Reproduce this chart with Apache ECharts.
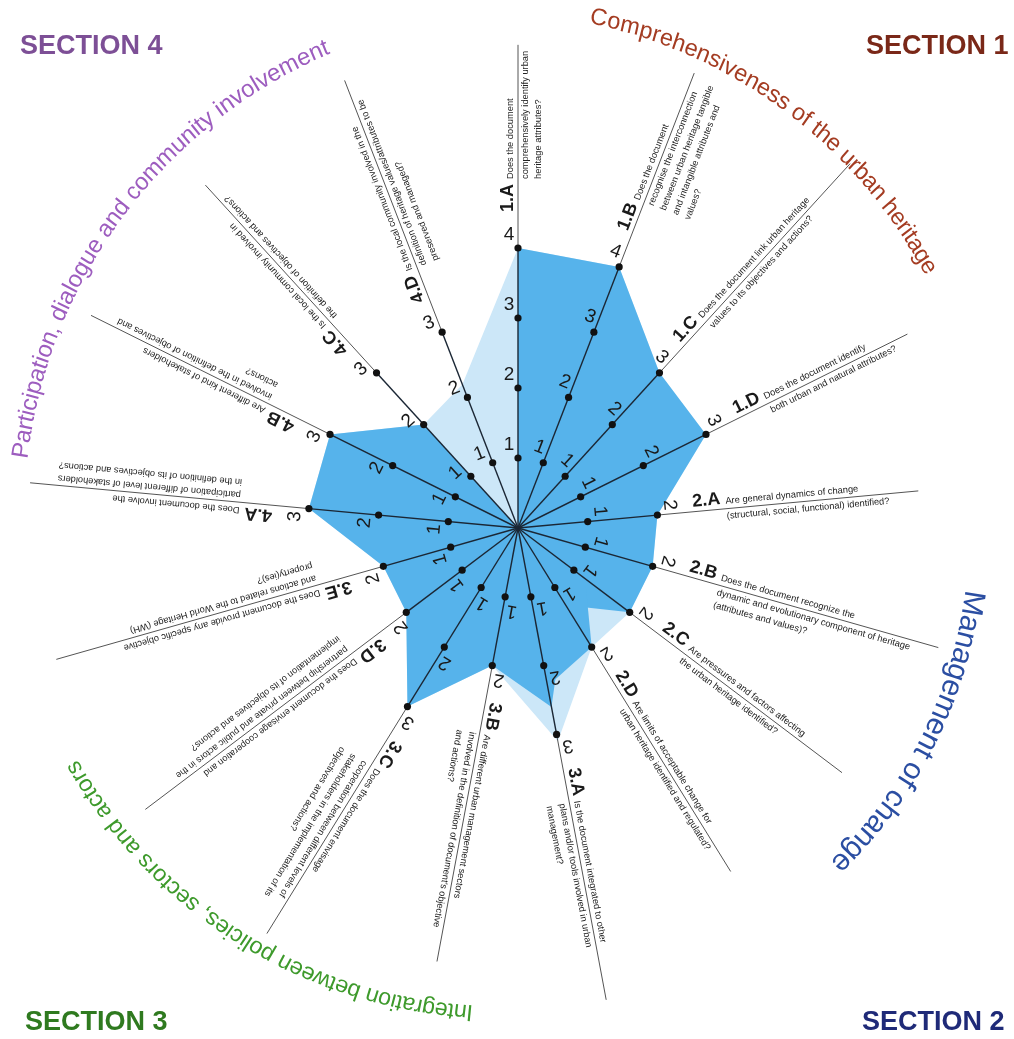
<!DOCTYPE html>
<html>
<head>
<meta charset="utf-8">
<script src="https://cdn.jsdelivr.net/npm/echarts@6/dist/echarts.min.js"></script>
<style>
  html, body { margin: 0; padding: 0; background: #fff; }
  #chart { width: 1014px; height: 1039px; }
</style>
</head>
<body>
<div id="chart"></div>
<script>
// criteria codes, clockwise from the top
const codes = ['1.A', '1.B', '1.C', '1.D', '2.A', '2.B', '2.C', '2.D', '3.A', '3.B', '3.C', '3.D', '3.E', '4.A', '4.B', '4.C', '4.D']
// highest score tick on each axis
const maxScore = [4, 4, 3, 3, 2, 2, 2, 2, 3, 2, 3, 2, 2, 3, 3, 3, 3]
// filled areas (light outer envelope, main score area, lower patch)
const outerArea = [4, 4, 3, 3, 2, 2, 2, 2, 3.1, 2, 3, 2, 2, 3, 3, 2, 2.2]
const mainArea = [4, 4, 3, 3, 2, 2, 2, 1.3, 2.6, 2, 3, 2, 2, 3, 3, 2, 0]
const lowerArea = [0, 0, 0, 0, 0, 0, 1.2, 2, 2.3, 1.5, 0, 0, 0, 0, 0, 0, 0]

const questions = [
  ['Does the document', 'comprehensively identify urban', 'heritage attributes?'],
  ['Does the document', 'recognise the interconnection', 'between urban heritage tangible', 'and intangible attributes and', 'values?'],
  ['Does the document link urban heritage', 'values to its objectives and actions?'],
  ['Does the document identify', 'both urban and natural attributes?'],
  ['Are general dynamics of change', '(structural, social, functional) identified?'],
  ['Does the document recognize the', 'dynamic and evolutionary component of heritage', '(attributes and values)?'],
  ['Are pressures and factors affecting', 'the urban heritage identified?'],
  ['Are limits of acceptable change for', 'urban heritage identified and regulated?'],
  ['Is the document integrated to other', 'plans and/or tools involved in urban', 'management?'],
  ['Are different urban management sectors', 'involved in the definition of document\'s objective', 'and actions?'],
  ['Does the document envisage', 'cooperation between different levels of', 'stakeholders in the implementation of its', 'objectives and actions?'],
  ['Does the document envisage cooperation and', 'partnership between private and public actors in the', 'implementation of its objectives and actions?'],
  ['Does the document provide any specific objective', 'and actions related to the World Heritage (WH)', 'property(ies)?'],
  ['Does the document involve the', 'participation of different level of stakeholders', 'in the definition of its objectives and actions?'],
  ['Are different kind of stakeholders', 'involved in the definition of objectives and', 'actions?'],
  ['Is the local community involved in', 'the definition of objectives and actions?'],
  ['Is the local community involved in the', 'definition of heritage values/attributes to be', 'preserved and managed?']
]

const sections = [
  { title: 'SECTION 1', arc: 'Comprehensiveness of the urban heritage', color: '#7a2818', arcColor: '#a43c22' },
  { title: 'SECTION 2', arc: 'Management of change', color: '#1f2a78', arcColor: '#2b4ea2' },
  { title: 'SECTION 3', arc: 'Integration between policies, sectors and actors', color: '#2f7a1f', arcColor: '#3e9a2c' },
  { title: 'SECTION 4', arc: 'Participation, dialogue and community involvement', color: '#7d4f96', arcColor: '#9d5dbf' }
]

const CX = 518
const CY = 528
const UNIT = 70
const RMAX = 7
const FONT = '"Liberation Sans", Arial, Helvetica, sans-serif'
// how far (px) each axis line runs out from the centre
const lineReach = [478, 480, 493, 435, 402, 437, 406, 404, 480, 441, 477, 467, 480, 490, 477, 464, 480]

const areas = [outerArea, mainArea, lowerArea]
const areaColors = ['#cce7f8', '#56b3eb', '#56b3eb']

const mctx = document.createElement('canvas').getContext('2d')
function textW(s, size, weight) {
  mctx.font = (weight || 'normal') + ' ' + size + 'px ' + FONT
  return mctx.measureText(s).width
}

function axisGeom(api, i) {
  const c = api.coord([0, i])
  const p = api.coord([1, i])
  const dx = p[0] - c[0]
  const dy = p[1] - c[1]
  const unit = Math.hypot(dx, dy)
  return { c: c, dx: dx / unit, dy: dy / unit, unit: unit }
}

const ticks = []
maxScore.forEach((m, i) => {
  for (let v = 1; v <= m; v++) ticks.push([v, i])
})

const Q_SIZE = 9.3
const Q_LH = 13
const CODE_SIZE = 18

// text following a circle, letters upright towards the outside
function arcText(str, a0, a1, r0, r1, color) {
  const chars = str.split('')
  const w = chars.map(ch => textW(ch, 100) / 100)
  const total = w.reduce((s, x) => s + x, 0)
  const span = total - w[0] / 2 - w[w.length - 1] / 2
  const rm = (r0 + r1) / 2
  const size = (a1 - a0) * Math.PI / 180 * rm / span
  const els = []
  let acc = 0
  chars.forEach((ch, j) => {
    const mid = acc + w[j] / 2
    const t = (mid - w[0] / 2) / span
    const phi = (a0 + (a1 - a0) * t) * Math.PI / 180
    const r = r0 + (r1 - r0) * t
    acc += w[j]
    if (ch === ' ') return
    els.push({
      type: 'text',
      x: CX + r * Math.sin(phi),
      y: CY - r * Math.cos(phi),
      rotation: -phi,
      style: { text: ch, fill: color, fontSize: size, fontFamily: FONT, align: 'center', verticalAlign: 'middle' }
    })
  })
  return els
}

const graphics = []
const titlePos = [[866, 47], [862, 1023], [25, 1023], [20, 47]]
sections.forEach((s, k) => {
  graphics.push({
    type: 'text', x: titlePos[k][0], y: titlePos[k][1],
    style: { text: s.title, fill: s.color, fontSize: 27, fontWeight: 'bold', fontFamily: FONT, verticalAlign: 'middle' }
  })
})
graphics.push(...arcText(sections[0].arc, 9, 57.5, 516, 486, sections[0].arcColor))
graphics.push(...arcText(sections[1].arc, 99.4, 135.9, 460, 465, sections[1].arcColor))
graphics.push(...arcText(sections[2].arc, 185.7, 241.6, 486, 504, sections[2].arcColor))
graphics.push(...arcText(sections[3].arc, 278.9, 338.1, 502, 517, sections[3].arcColor))

const chart = echarts.init(document.getElementById('chart'))
chart.setOption({
  animation: false,
  backgroundColor: '#fff',
  polar: { center: [CX, CY], radius: RMAX * UNIT },
  angleAxis: { type: 'value', min: 0, max: codes.length, startAngle: 90, clockwise: true, show: false },
  radiusAxis: { type: 'value', min: 0, max: RMAX, show: false },
  graphic: graphics,
  series: [
    {
      type: 'custom',
      coordinateSystem: 'polar',
      z: 1,
      silent: true,
      data: areas.map((a, k) => [0, 0, k]),
      renderItem(params, api) {
        const k = api.value(2)
        const pts = areas[k].map((v, i) => api.coord([v, i]))
        return { type: 'polygon', shape: { points: pts }, style: { fill: areaColors[k] } }
      }
    },
    {
      type: 'custom',
      coordinateSystem: 'polar',
      z: 2,
      silent: true,
      data: codes.map((c, i) => [maxScore[i], i]),
      renderItem(params, api) {
        const m = api.value(0)
        const i = api.value(1)
        const g = axisGeom(api, i)
        const pm = api.coord([m, i])
        const code = codes[i]
        const lines = questions[i]
        const codeW = textW(code, CODE_SIZE, 'bold')
        const qx = codeW + 5
        const maxW = Math.max(...lines.map(l => textW(l, Q_SIZE)))
        const rStart = m * g.unit + 36
        const rEnd = Math.max(rStart + qx + maxW + 6, lineReach[i])
        const ps = [g.c[0] + g.dx * rStart, g.c[1] + g.dy * rStart]
        const pe = [g.c[0] + g.dx * rEnd, g.c[1] + g.dy * rEnd]
        const rot = Math.atan2(-g.dy, g.dx)
        const texts = [
          { type: 'text', x: 0, y: -1, style: { text: code, fontSize: CODE_SIZE, fontWeight: 'bold', fontFamily: FONT, fill: '#1a1a1a', verticalAlign: 'bottom' } }
        ]
        lines.forEach((l, k) => {
          texts.push({
            type: 'text', x: qx, y: k === 0 ? -3 : 3 + (k - 1) * Q_LH,
            style: { text: l, fontSize: Q_SIZE, fontFamily: FONT, fill: '#222', verticalAlign: k === 0 ? 'bottom' : 'top' }
          })
        })
        return {
          type: 'group',
          children: [
            { type: 'line', shape: { x1: g.c[0], y1: g.c[1], x2: pm[0], y2: pm[1] }, style: { stroke: '#1b2735', lineWidth: 1.4 } },
            { type: 'line', shape: { x1: pm[0], y1: pm[1], x2: pe[0], y2: pe[1] }, style: { stroke: '#555', lineWidth: 1 } },
            { type: 'group', x: ps[0], y: ps[1], rotation: rot, children: texts }
          ]
        }
      }
    },
    {
      type: 'custom',
      coordinateSystem: 'polar',
      z: 3,
      silent: true,
      data: ticks,
      renderItem(params, api) {
        const v = api.value(0)
        const i = api.value(1)
        const g = axisGeom(api, i)
        const p = api.coord([v, i])
        // left side of the axis when looking outwards
        const leftX = g.dy
        const leftY = -g.dx
        const theta = Math.atan2(g.dx, -g.dy)
        return {
          type: 'group',
          children: [
            { type: 'circle', shape: { cx: p[0], cy: p[1], r: 3.6 }, style: { fill: '#111' } },
            {
              type: 'text',
              x: p[0] + 13 * g.dx + 9 * leftX,
              y: p[1] + 13 * g.dy + 9 * leftY,
              rotation: -theta,
              style: { text: String(v), fontSize: 19, fontFamily: FONT, fill: '#1a1a1a', align: 'center', verticalAlign: 'middle' }
            }
          ]
        }
      }
    }
  ]
})
</script>
</body>
</html>
